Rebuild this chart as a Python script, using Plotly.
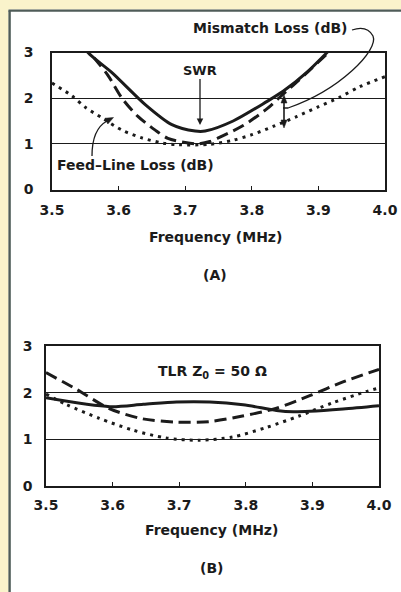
import plotly.graph_objects as go

W, H = 401, 592

# ---------------- data ----------------
# Panel (A)
a_swr_f = [3.54, 3.554, 3.59, 3.64, 3.68, 3.715, 3.73, 3.772, 3.823, 3.847, 3.883, 3.913, 3.93]
a_swr_v = [3.3, 3.0, 2.56, 1.86, 1.42, 1.28, 1.28, 1.5, 1.93, 2.15, 2.57, 3.0, 3.25]

a_dash_f = [3.545, 3.565, 3.584, 3.605, 3.629, 3.655, 3.674, 3.70, 3.72, 3.737, 3.757, 3.787, 3.823, 3.842, 3.88, 3.913, 3.93]
a_dash_v = [3.2, 2.85, 2.5, 2.0, 1.6, 1.3, 1.12, 1.03, 1.0, 1.05, 1.18, 1.4, 1.77, 2.02, 2.52, 2.97, 3.2]

a_dot_f = [3.5, 3.53, 3.55, 3.575, 3.605, 3.635, 3.665, 3.69, 3.737, 3.772, 3.80, 3.832, 3.868, 3.898, 3.932, 3.962, 4.0]
a_dot_v = [2.33, 2.05, 1.8, 1.57, 1.3, 1.13, 1.02, 0.98, 0.99, 1.08, 1.2, 1.38, 1.6, 1.8, 2.02, 2.25, 2.47]

# Panel (B)
b_solid_f = [3.5, 3.596, 3.646, 3.696, 3.746, 3.796, 3.846, 3.871, 3.896, 3.946, 4.0]
b_solid_v = [1.89, 1.70, 1.75, 1.80, 1.80, 1.74, 1.62, 1.59, 1.60, 1.65, 1.72]

b_dash_f = [3.5, 3.546, 3.595, 3.645, 3.696, 3.745, 3.795, 3.845, 3.895, 3.944, 4.0]
b_dash_v = [2.43, 2.07, 1.66, 1.44, 1.37, 1.38, 1.5, 1.66, 1.93, 2.22, 2.5]

b_dot_f = [3.5, 3.53, 3.58, 3.63, 3.68, 3.73, 3.78, 3.83, 3.88, 3.93, 3.98, 4.0]
b_dot_v = [1.97, 1.75, 1.45, 1.2, 1.03, 0.98, 1.05, 1.25, 1.5, 1.78, 2.02, 2.1]

x_ticks = [3.5, 3.6, 3.7, 3.8, 3.9, 4.0]
x_tick_text = ["3.5", "3.6", "3.7", "3.8", "3.9", "4.0"]
y_ticks = [0, 1, 2, 3]
y_tick_text = ["0", "1", "2", "3"]

# ---------------- styling ----------------
INK = "#1b1b1b"
FONT = "DejaVu Sans"
CREAM = "#FAF3CB"
FRAME = "#4f5c58"


def px(x):
    return x / W


def py(y):
    return 1 - y / H


def path(points, close=False):
    """points in pixel coordinates -> SVG path in paper coordinates."""
    s = "M {:.5f} {:.5f}".format(px(points[0][0]), py(points[0][1]))
    for p in points[1:]:
        s += " L {:.5f} {:.5f}".format(px(p[0]), py(p[1]))
    if close:
        s += " Z"
    return s


fig = go.Figure()

solid = dict(color=INK, width=3, shape="spline", smoothing=0.8)
dashed = dict(color=INK, width=3, dash="12px,6px", shape="spline", smoothing=0.8)
dotted = dict(color=INK, width=3, dash="3px,5px", shape="spline", smoothing=0.8)

fig.add_trace(go.Scatter(x=a_dot_f, y=a_dot_v, mode="lines", line=dotted, xaxis="x", yaxis="y", name="Feed-Line Loss (dB)"))
fig.add_trace(go.Scatter(x=a_dash_f, y=a_dash_v, mode="lines", line=dashed, xaxis="x", yaxis="y", name="Total Loss"))
fig.add_trace(go.Scatter(x=a_swr_f, y=a_swr_v, mode="lines", line=solid, xaxis="x", yaxis="y", name="SWR"))

fig.add_trace(go.Scatter(x=b_dot_f, y=b_dot_v, mode="lines", line=dotted, xaxis="x2", yaxis="y2", name="Feed-Line Loss (dB)"))
fig.add_trace(go.Scatter(x=b_dash_f, y=b_dash_v, mode="lines", line=dashed, xaxis="x2", yaxis="y2", name="Total Loss"))
fig.add_trace(go.Scatter(x=b_solid_f, y=b_solid_v, mode="lines", line=solid, xaxis="x2", yaxis="y2", name="SWR"))

tickfont = dict(family=FONT, size=14, color=INK, weight="bold")


def xaxis(domain, anchor, standoff):
    return dict(domain=domain, anchor=anchor, range=[3.5, 4.0], tickvals=x_ticks, ticktext=x_tick_text,
                ticks="inside", ticklen=4, tickwidth=1.2, tickcolor=INK, showgrid=False, zeroline=False,
                showline=True, linecolor=INK, linewidth=1.6, mirror=True, tickfont=tickfont,
                ticklabelstandoff=standoff, fixedrange=True, automargin=False)


def yaxis(domain, anchor, standoff):
    return dict(domain=domain, anchor=anchor, range=[0, 3], tickvals=y_ticks, ticktext=y_tick_text,
                ticks="", showgrid=True, gridcolor=INK, gridwidth=1.2, zeroline=False,
                showline=True, linecolor=INK, linewidth=1.6, mirror=True, tickfont=tickfont,
                ticklabelstandoff=standoff, fixedrange=True, automargin=False)


shapes = [
    # cream page bands (left and top) with the dark frame line
    dict(type="rect", xref="paper", yref="paper", x0=-0.2, x1=px(8.5), y0=-0.2, y1=1.2,
         fillcolor=CREAM, line=dict(width=0), layer="below"),
    dict(type="rect", xref="paper", yref="paper", x0=-0.2, x1=1.2, y0=py(9.5), y1=1.2,
         fillcolor=CREAM, line=dict(width=0), layer="below"),
    dict(type="line", xref="paper", yref="paper", x0=px(9.6), x1=px(9.6), y0=py(10.6), y1=-0.2,
         line=dict(color=FRAME, width=2.4)),
    dict(type="line", xref="paper", yref="paper", x0=px(8.5), x1=1.2, y0=py(10.6), y1=py(10.6),
         line=dict(color=FRAME, width=2.4)),
    # Mismatch Loss connector
    dict(type="path", xref="paper", yref="paper",
         path="M {} {} Q {} {} {} {} C {} {} {} {} {} {} L {} {}".format(
             px(352), py(30), px(367), py(25), px(373), py(36),
             px(379), py(50), px(340), py(90), px(288), py(108), px(283), py(108)),
         line=dict(color=INK, width=1.3)),
    # vertical double arrow (mismatch loss)
    dict(type="line", xref="paper", yref="paper", x0=px(284), x1=px(284), y0=py(100), y1=py(122),
         line=dict(color=INK, width=1.6)),
    dict(type="path", xref="paper", yref="paper",
         path=path([(284, 95), (281, 103), (287, 103)], close=True), fillcolor=INK, line=dict(color=INK, width=0.5)),
    dict(type="path", xref="paper", yref="paper",
         path=path([(284, 128), (281, 120), (287, 120)], close=True), fillcolor=INK, line=dict(color=INK, width=0.5)),
    # Feed-Line Loss connector with arrowhead
    dict(type="path", xref="paper", yref="paper",
         path="M {} {} C {} {} {} {} {} {}".format(
             px(92), py(156), px(92), py(140), px(96), py(127), px(107), py(121)),
         line=dict(color=INK, width=1.3)),
    dict(type="path", xref="paper", yref="paper",
         path=path([(113.5, 117.5), (107.8, 124.0), (105.0, 118.2)], close=True), fillcolor=INK,
         line=dict(color=INK, width=0.5)),
]

annfont = dict(family=FONT, size=14, color=INK, weight="bold")


def label(text, x, y, xanchor="center", size=14):
    return dict(text=text, x=px(x), y=py(y), xref="paper", yref="paper", showarrow=False,
                xanchor=xanchor, yanchor="middle", font=dict(annfont, size=size))


annotations = [
    label("Mismatch Loss (dB)", 270, 28),
    dict(text="SWR", x=px(200), y=py(125), xref="paper", yref="paper", showarrow=True, ax=0, ay=-55,
         xanchor="center", yanchor="middle",
         arrowhead=2, arrowsize=1, arrowwidth=1.3, arrowcolor=INK, font=dict(annfont, size=13)),
    label("Feed\u2013Line Loss (dB)", 55, 165, xanchor="left"),
    label("Frequency (MHz)", 215, 237),
    label("(A)", 215, 275),
    label("TLR Z<sub>0</sub> = 50 \u03a9", 212, 372),
    label("Frequency (MHz)", 211, 530),
    label("(B)", 211, 568),
]

fig.update_layout(
    width=W, height=H, autosize=False,
    margin=dict(l=0, r=0, t=0, b=0, pad=0),
    paper_bgcolor="white", plot_bgcolor="rgba(0,0,0,0)",
    showlegend=False,
    xaxis=xaxis([px(52), px(385)], "y", 7),
    yaxis=yaxis([py(189.5), py(52.5)], "x", 14),
    xaxis2=xaxis([px(46), px(379)], "y2", 5),
    yaxis2=yaxis([py(486), py(346)], "x2", 9),
    shapes=shapes,
    annotations=annotations,
)

fig.write_html("out.html")
